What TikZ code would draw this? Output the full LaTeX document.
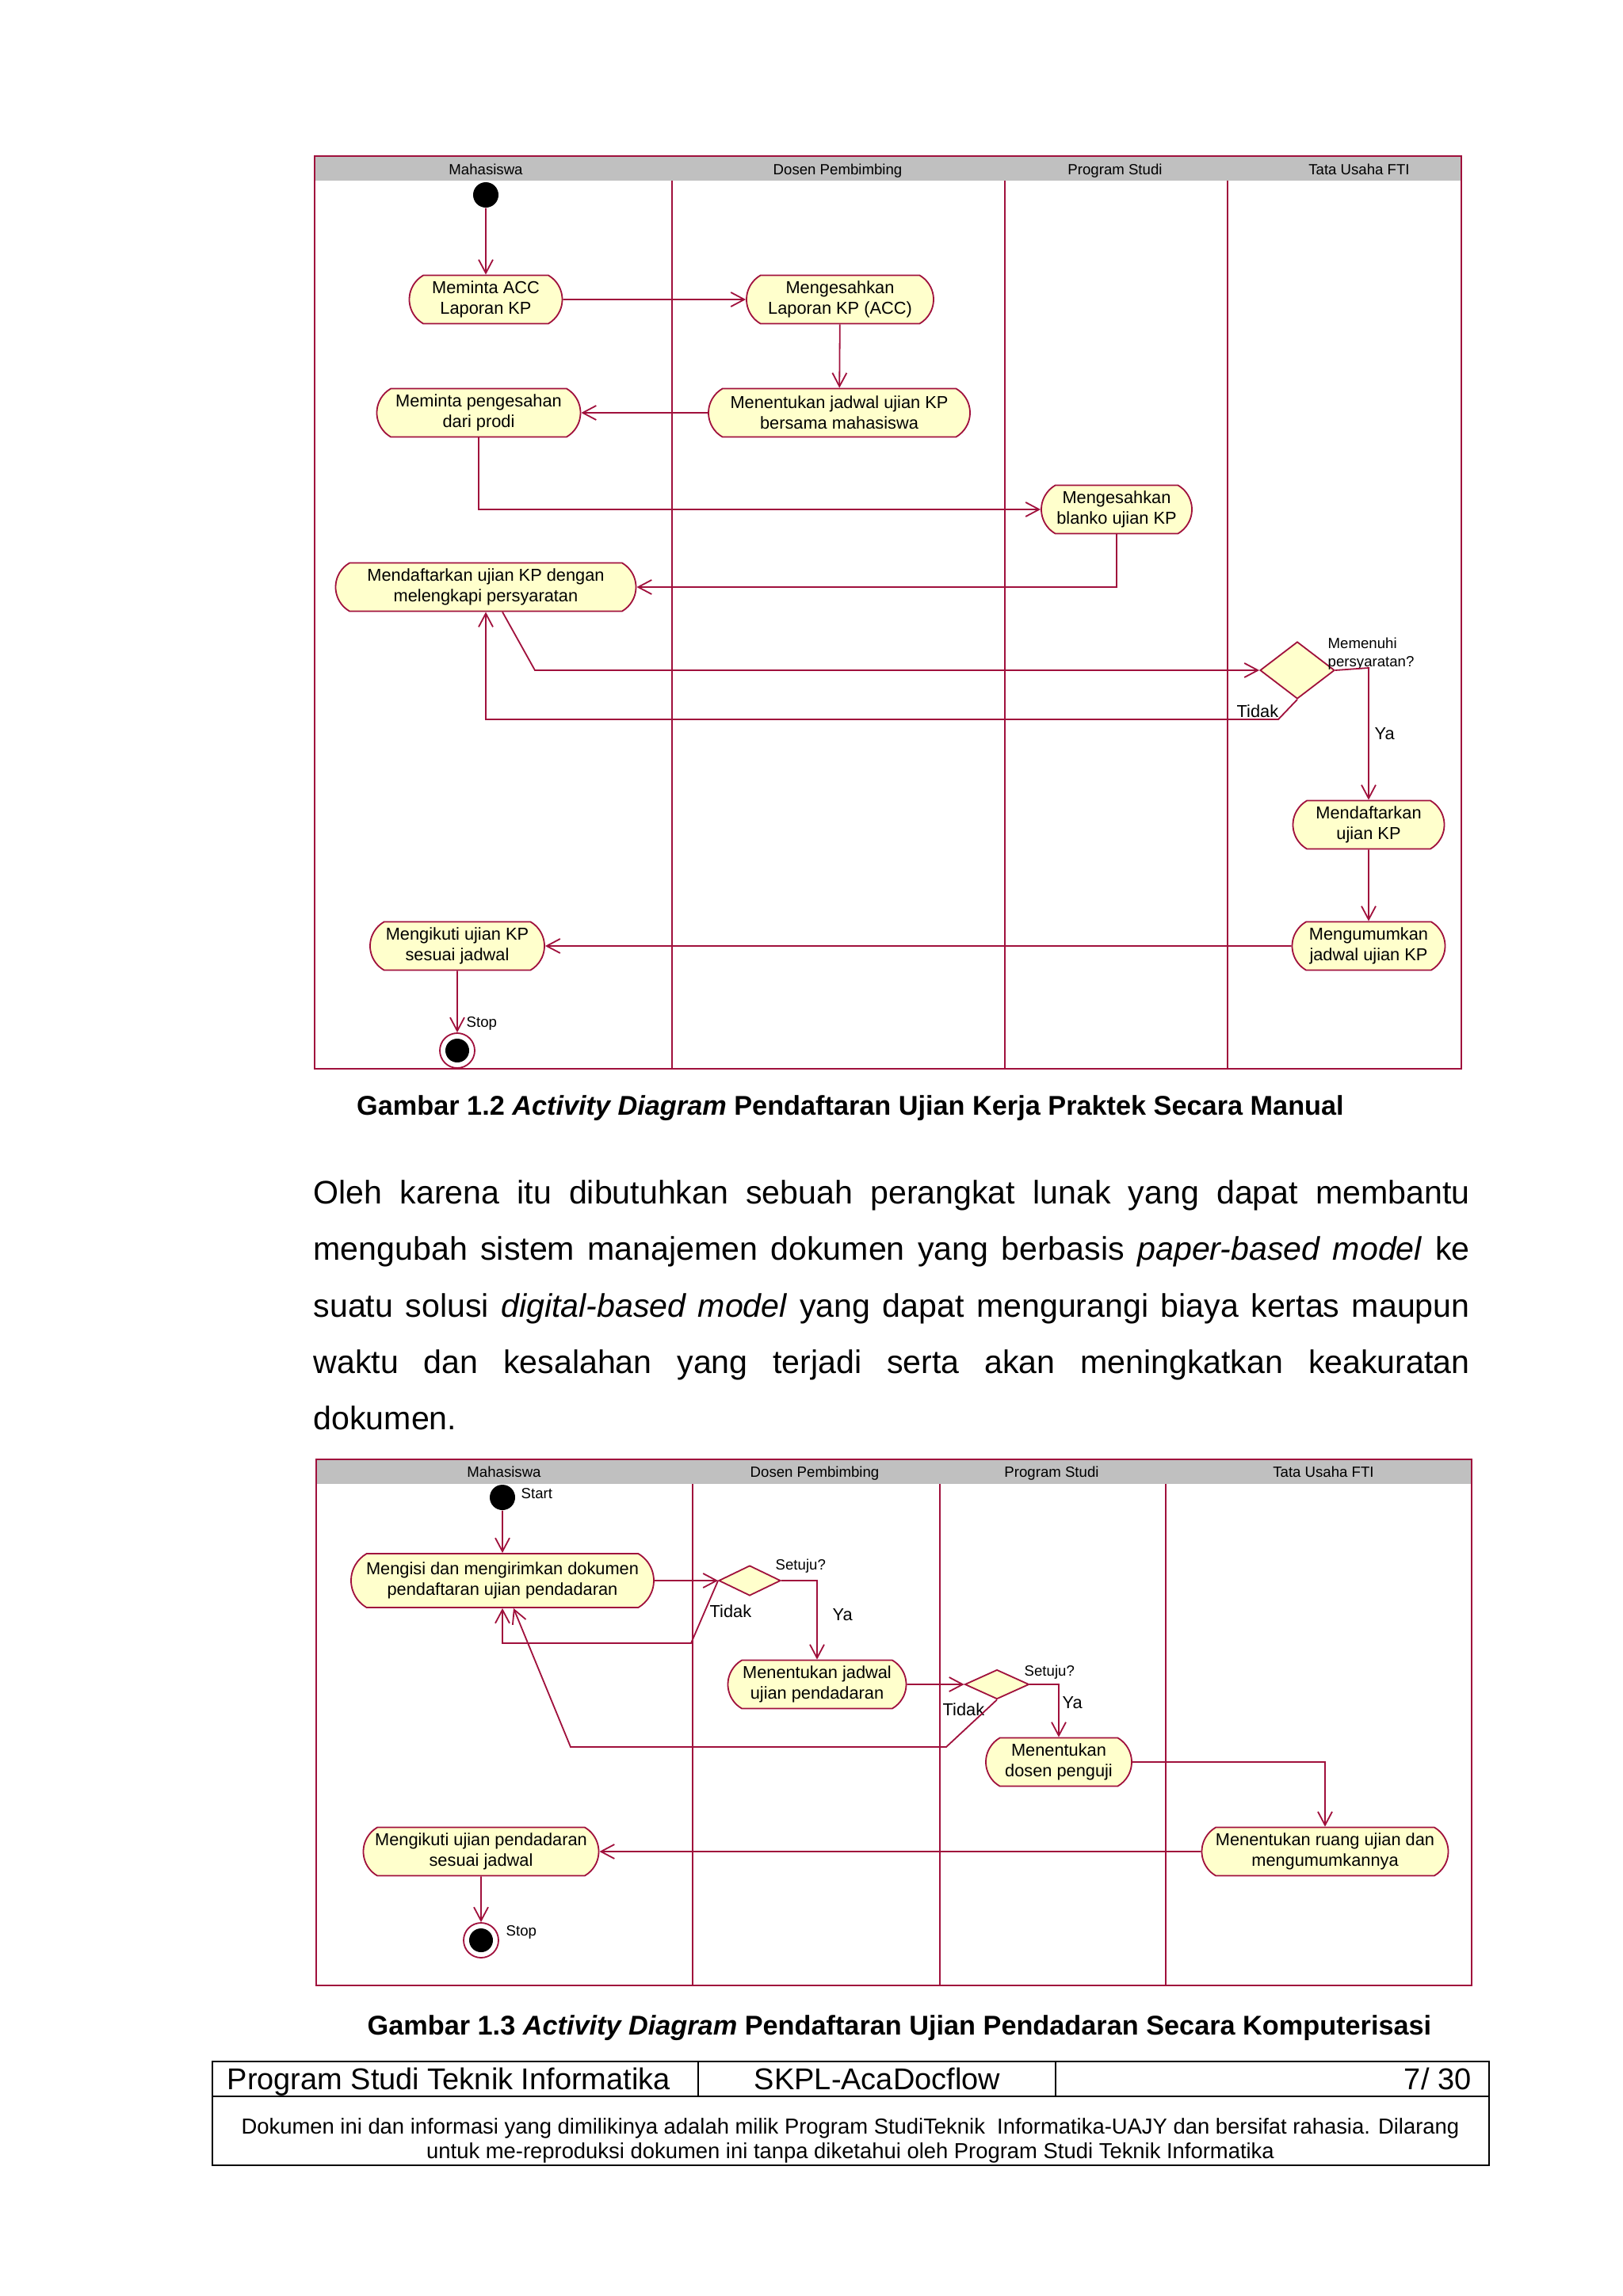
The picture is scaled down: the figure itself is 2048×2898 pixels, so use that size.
\documentclass[tikz,border=0pt]{standalone}
\usepackage{fontspec}
\setmainfont{Liberation Sans}
\definecolor{UmlRed}{HTML}{A0103C}
\definecolor{UmlFill}{HTML}{FFFFCC}
\definecolor{LaneGray}{HTML}{C0C0C0}
\usetikzlibrary{arrows.meta, shapes.misc, shapes.geometric}

\newcommand\actfont{\fontsize{6.2}{7.4}\selectfont}
\newcommand\tinyfont{\fontsize{5.3}{6.4}\selectfont}
\newcommand\bodyfont{\fontsize{11.7}{20.28}\selectfont}
\newcommand\capfont{\fontsize{9.75}{12}\selectfont\bfseries}
\newcommand\footfont{\fontsize{10.8}{13}\selectfont}
\newcommand\notefont{\fontsize{7.8}{8.9}\selectfont}

\begin{document}
\begin{tikzpicture}[x=0.1mm, y=-0.1mm,
  act/.style={rounded rectangle, rounded rectangle arc length=120, draw=UmlRed, fill=UmlFill,
    line width=0.18mm, font=\actfont, align=center, inner sep=0pt, minimum height=6.1mm},
  choice/.style={diamond, draw=UmlRed, fill=UmlFill, line width=0.18mm, inner sep=0pt},
  startdot/.style={circle, fill=black, minimum size=3.2mm, inner sep=0pt},
  stopdot/.style={circle, draw=UmlRed, fill=white, line width=0.18mm, minimum size=4.4mm, inner sep=0pt,
    path picture={\fill[black] (path picture bounding box.center) circle (1.5mm);}},
  flow/.style={draw=UmlRed, line width=0.18mm, -{Straight Barb[length=1.7mm, width=1.8mm]}},
  lane/.style={draw=UmlRed, line width=0.18mm},
  lanehead/.style={font=\tinyfont, inner sep=0pt, anchor=base},
  guard/.style={font=\actfont, inner sep=0pt},
  note/.style={font=\tinyfont, inner sep=0pt, align=left},
  rule/.style={line width=0.15mm},
]
  \useasboundingbox[fill=white] (0,0) rectangle (2048,2898);

  % ---- Gambar 1.2 : manual ----
  \fill[white] (397,197) rectangle (1844,1349);
  \fill[LaneGray] (397,197) rectangle (1844,228);
  \draw[lane] (397,197) rectangle (1844,1349);
  \foreach \x in {848,1268,1549} \draw[lane] (\x,228) -- (\x,1349);
  \foreach \x/\t [count=\i] in {613/Mahasiswa, 1057/Dosen Pembimbing, 1407/Program Studi, 1715/Tata Usaha FTI}
    \node[lanehead] (laneA\i) at (\x,220) {\t};

  \node[startdot] (startA) at (613,246) {};
  \node[act, minimum width=19.3mm] (askAcc) at (613,378) {Meminta ACC\\Laporan KP};
  \node[act, minimum width=23.6mm] (signAcc) at (1060,378) {Mengesahkan\\Laporan KP (ACC)};
  \node[act, minimum width=33mm] (setDate) at (1059,521) {Menentukan jadwal ujian KP\\bersama mahasiswa};
  \node[act, minimum width=25.7mm] (askProdi) at (604,521) {Meminta pengesahan\\dari prodi};
  \node[act, minimum width=19mm] (signForm) at (1409,643) {Mengesahkan\\blanko ujian KP};
  \node[act, minimum width=37.9mm] (register) at (613,741) {Mendaftarkan ujian KP dengan\\melengkapi persyaratan};
  \node[choice, minimum width=9.4mm, minimum height=7.2mm] (check) at (1637,846) {};
  \node[act, minimum width=19.1mm] (enrol) at (1727,1041) {Mendaftarkan\\ujian KP};
  \node[act, minimum width=19.3mm] (announce) at (1727,1194) {Mengumumkan\\jadwal ujian KP};
  \node[act, minimum width=22mm] (attend) at (577,1194) {Mengikuti ujian KP\\sesuai jadwal};
  \node[stopdot] (stopA) at (577,1326) {};

  \node[note, anchor=west] (reqLbl) at (1675,825) {Memenuhi\\persyaratan?};
  \node[guard, anchor=west] (yaA) at (1734,926) {Ya};
  \node[guard, anchor=west] (tidakA) at (1560,898) {Tidak};
  \node[note, anchor=west] (stopLblA) at (588,1292) {Stop};

  \draw[flow] (startA) -- (askAcc);
  \draw[flow] (askAcc) -- (signAcc);
  \draw[flow] (signAcc) -- (setDate);
  \draw[flow] (setDate) -- (askProdi);
  \draw[flow] (askProdi.south) |- (signForm.west);
  \draw[flow] (signForm.south) |- (register.east);
  \coordinate (bendA) at (675,846);
  \draw[flow] ([xshift=2.1mm]register.south) -- (bendA) -- (check.west);
  \coordinate (bendB) at (1727,843);
  \draw[flow] (check.east) -- (bendB) -- (enrol.north);
  \coordinate (bendC) at (1613,908);
  \draw[flow] (check.south) -- (bendC) -| (register.south);
  \draw[flow] (enrol) -- (announce);
  \draw[flow] (announce) -- (attend);
  \draw[flow] (attend) -- (stopA);

  \node[font=\capfont, anchor=base] (capA) at (1073,1407)
    {Gambar 1.2 \textit{Activity Diagram} Pendaftaran Ujian Kerja Praktek Secara Manual};

  % ---- paragraf ----
  \node[anchor=north west, inner sep=0pt, text width=145.9mm, align=justify, font=\bodyfont] (para) at (395,1489)
    {\noindent Oleh karena itu dibutuhkan sebuah perangkat lunak yang dapat membantu\linebreak
     mengubah sistem manajemen dokumen yang berbasis \textit{paper-based model} ke\linebreak
     suatu solusi \textit{digital-based model} yang dapat mengurangi biaya kertas maupun\linebreak
     waktu dan kesalahan yang terjadi serta akan meningkatkan keakuratan\linebreak
     dokumen.};

  % ---- Gambar 1.3 : komputerisasi ----
  \fill[white] (399,1842) rectangle (1857,2506);
  \fill[LaneGray] (399,1842) rectangle (1857,1873);
  \draw[lane] (399,1842) rectangle (1857,2506);
  \foreach \x in {874,1186,1471} \draw[lane] (\x,1873) -- (\x,2506);
  \foreach \x/\t [count=\i] in {636/Mahasiswa, 1028/Dosen Pembimbing, 1327/Program Studi, 1670/Tata Usaha FTI}
    \node[lanehead] (laneB\i) at (\x,1864) {\t};

  \node[startdot] (startB) at (634,1890) {};
  \node[note, anchor=west] (startLbl) at (657,1885) {Start};
  \node[act, minimum width=38.2mm, minimum height=6.8mm] (submit) at (634,1995)
    {Mengisi dan mengirimkan dokumen\\pendaftaran ujian pendadaran};
  \node[choice, minimum width=7.8mm, minimum height=3.8mm] (okDosen) at (946,1995) {};
  \node[act, minimum width=22.5mm] (schedule) at (1031,2126) {Menentukan jadwal\\ujian pendadaran};
  \node[choice, minimum width=8.1mm, minimum height=3.7mm] (okProdi) at (1258,2126) {};
  \node[act, minimum width=18.4mm] (examiner) at (1336,2224) {Menentukan\\dosen penguji};
  \node[act, minimum width=31.1mm] (room) at (1672,2337) {Menentukan ruang ujian dan\\mengumumkannya};
  \node[act, minimum width=29.7mm] (attendB) at (607,2337) {Mengikuti ujian pendadaran\\sesuai jadwal};
  \node[stopdot] (stopB) at (607,2449) {};
  \node[note, anchor=west] (stopLblB) at (638,2439) {Stop};

  \node[note, anchor=west] (okLblA) at (978,1977) {Setuju?};
  \node[guard, anchor=west] (yaB) at (1050,2038) {Ya};
  \node[guard, anchor=west] (tidakB) at (895,2034) {Tidak};
  \node[note, anchor=west] (okLblB) at (1292,2111) {Setuju?};
  \node[guard, anchor=west] (yaC) at (1340,2149) {Ya};
  \node[guard, anchor=west] (tidakC) at (1189,2158) {Tidak};

  \draw[flow] (startB) -- (submit);
  \draw[flow] (submit) -- (okDosen);
  \draw[flow] (okDosen.east) -| (schedule.north);
  \coordinate (bendD) at (872,2074);
  \draw[flow] (okDosen.west) -- (bendD) -| (submit.south);
  \draw[flow] (schedule) -- (okProdi);
  \draw[flow] (okProdi.east) -| (examiner.north);
  \coordinate (bendE) at (1194,2205);
  \coordinate (bendF) at (720,2205);
  \draw[flow] (okProdi.south) -- (bendE) -- (bendF) -- ([xshift=1.4mm]submit.south);
  \draw[flow] (examiner.east) -| (room.north);
  \draw[flow] (room) -- (attendB);
  \draw[flow] (attendB) -- (stopB);

  \node[font=\capfont, anchor=base] (capB) at (1135,2568)
    {Gambar 1.3 \textit{Activity Diagram} Pendaftaran Ujian Pendadaran Secara Komputerisasi};

  % ---- footer ----
  \draw[line width=0.25mm] (268,2602) rectangle (1879,2733);
  \draw[rule] (268,2646) -- (1879,2646);
  \draw[rule] (881,2602) -- (881,2646);
  \draw[rule] (1332,2602) -- (1332,2646);
  \node[font=\footfont, anchor=base west, inner sep=0pt] (footProdi) at (286,2637) {Program Studi Teknik Informatika};
  \node[font=\footfont, anchor=base, inner sep=0pt] (footDoc) at (1107,2637) {SKPL-AcaDocflow};
  \node[font=\footfont, anchor=base east, inner sep=0pt] (footPage) at (1857,2637) {7/ 30};
  \node[font=\notefont, align=center, inner sep=0pt] (footNote) at (1073,2702)
    {Dokumen ini dan informasi yang dimilikinya adalah milik Program StudiTeknik\ \ Informatika-UAJY dan bersifat rahasia. Dilarang\\
     untuk me-reproduksi dokumen ini tanpa diketahui oleh Program Studi Teknik Informatika};
\end{tikzpicture}
\end{document}
